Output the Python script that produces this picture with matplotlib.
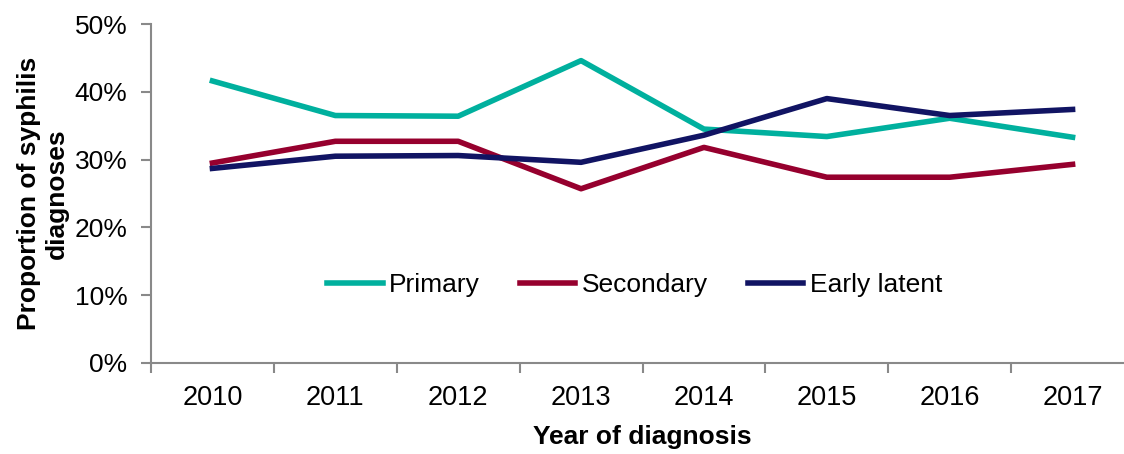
import matplotlib
matplotlib.use("Agg")
import matplotlib.pyplot as plt
from matplotlib.ticker import PercentFormatter

plt.rcParams['font.family'] = ['Liberation Sans', 'DejaVu Sans']

years = ["2010", "2011", "2012", "2013", "2014", "2015", "2016", "2017"]
primary = [41.6, 36.5, 36.4, 44.6, 34.5, 33.4, 36.1, 33.3]
secondary = [29.5, 32.7, 32.7, 25.7, 31.8, 27.4, 27.4, 29.3]
early_latent = [28.7, 30.5, 30.6, 29.6, 33.6, 39.0, 36.5, 37.4]

fig = plt.figure(figsize=(11.24, 4.54), dpi=100)
ax = fig.add_axes([151 / 1124, 1 - 363 / 454, (1134 - 151) / 1124, 339 / 454])

x = range(len(years))
ax.plot(x, primary, color="#00B09E", lw=4, label="Primary")
ax.plot(x, secondary, color="#96002E", lw=4, label="Secondary")
ax.plot(x, early_latent, color="#111463", lw=4, label="Early latent")

ax.set_xlim(-0.5, len(years) - 0.5)
ax.set_ylim(0, 50)
ax.set_yticks(range(0, 51, 10))
ax.yaxis.set_major_formatter(PercentFormatter(decimals=0))
ax.set_xticks(x)
ax.set_xticklabels(years)
# category boundaries get the tick marks, labels sit in between
ax.set_xticks([i - 0.5 for i in range(len(years) + 1)], minor=True)
ax.tick_params(axis="x", which="major", length=0, labelsize=19.5, pad=16)
ax.tick_params(axis="x", which="minor", length=7, width=1.5, color="#898989", direction="out")
ax.tick_params(axis="y", length=7, width=1.5, color="#898989", labelsize=19, pad=10)

for side in ["top", "right"]:
    ax.spines[side].set_visible(False)
for side in ["left", "bottom"]:
    ax.spines[side].set_color("#898989")
    ax.spines[side].set_linewidth(1.5)

ax.set_xlabel("Year of diagnosis", fontsize=19, fontweight="bold", labelpad=10)
ax.set_ylabel("Proportion of syphilis\ndiagnoses", fontsize=19, fontweight="bold", labelpad=4)

ax.legend(loc="center", bbox_to_anchor=(0.492, 0.23), ncol=3, frameon=False,
          fontsize=19, handlelength=2.1, columnspacing=1.5, handletextpad=0.25)

fig.savefig("out.png", dpi=100)
